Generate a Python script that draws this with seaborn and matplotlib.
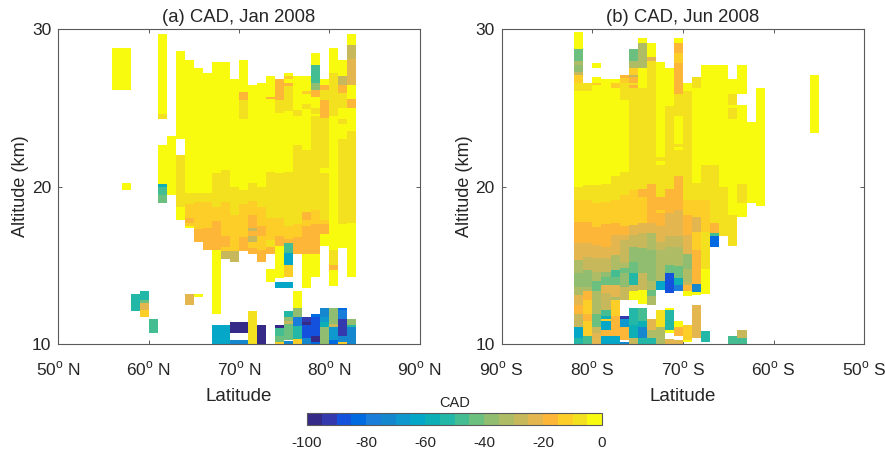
import numpy as np
import matplotlib
matplotlib.use("Agg")
import matplotlib.pyplot as plt
from matplotlib.colors import ListedColormap
import seaborn as sns

n = np.nan
# Each profile: top altitude (km), CAD value, next altitude, CAD value, ... bottom altitude. NaN = no data.
jan_profiles = {
 56: [28.8,-2,26.1],
 57: [28.8,-2,26.1,n,20.2,-2,19.8],
 58: [13.2,-52,12.1],
 59: [13.4,-52,12.8,-42,12.65,-22,12.15,-12,11.75],
 60: [11.6,-47,10.7],
 61: [29.7,-2,24.6,-7,24.3,n,22.65,-2,20.15,-57,20.0,-47,19.5,-42,18.95],
 62: [23.2,-2,19.5],
 63: [28.6,-2,23.0,n,22.0,-7,18.7,-2,17.9],
 64: [28.05,-2,19.6,-7,18.9,-12,18.0,-17,17.7,-12,17.5,-2,17.35,n,13.2,-22,12.5],
 65: [27.5,-2,19.6,-7,19.0,-12,17.3,-17,16.5,n,13.2,-2,13.0],
 66: [27.2,-2,19.6,-7,19,-12,17.4,-17,16.0],
 67: [27.9,-2,20.85,-7,18.7,-12,17.8,-17,15.95,-2,11.95,n,11.2,-62,10],
 68: [27.9,-2,21.05,-7,19,-12,16.9,-17,16.2,-12,15.9,-27,15.4,n,11.2,-62,10],
 69: [26.8,-2,20,-7,18.2,-12,15.9,-27,15.2,n,11.4,-97,10.7,n,10.3,-72,10],
 70: [28.05,-2,26,-17,25.5,-7,24.3,-2,19.8,-7,18.9,-12,16.8,-17,15.9,n,11.4,-97,10.7,n,10.3,-72,10],
 71: [26.45,-2,20.2,-7,19.1,-12,18.2,-17,17.4,-27,17.2,-17,16.9,-27,16.5,-12,16.1,-17,15.7,n,12.1,-7,10],
 72: [26.6,-2,20,-7,18.7,-12,17.5,-17,16.9,-12,16.0,-17,15.2,n,11.2,-97,10],
 73: [27,-2,25.7,-17,25.55,-2,20.9,-7,18,-12,16.6,-7,16.2,-17,15.75,n,14.8,-2,13.95],
 74: [26.8,-17,25.5,-7,24.7,-2,20.85,-7,18.0,-12,16.9,-17,16.25,-2,14.2,n,13.95,-62,13.55,n,11.2,-97,11.05,-47,10.5,-42,10.15,-12,10],
 75: [27.2,-2,27,-12,26.8,-2,26.6,-17,26.4,-7,24.8,-2,20.9,-7,17.5,-12,16.7,-17,16.4,-47,15.8,-62,15,-12,14.3,n,13.95,-62,13.55,n,12.1,-52,11.75,-37,11.5,-27,11.3,-42,10.3,n,10.2,-72,10],
 76: [27,-2,24.85,-7,24.5,-2,22.65,-7,17.6,-12,16.8,-17,15.7,n,13.4,-2,12.3,-37,11.75,-77,11.15,-52,10.35,-12,10],
 77: [27,-2,26.05,-12,25.9,-2,25.25,-7,24.95,-2,22.3,-7,18.4,-17,17.9,-12,17.5,-17,15.7,-2,13.55,n,11.75,-92,11.4,-97,11.2,-87,10.4,-72,10],
 78: [28.45,-2,27.7,-47,26.6,-37,26.1,-17,25.7,-2,25,-7,24.6,-2,24.45,-7,18.5,-12,17.6,-17,15.75,-2,14.25,n,11.95,-82,11.75,-87,10.5,-97,10.15,-82,10],
 79: [26.8,-2,26.45,-17,26.1,-7,25.5,-17,24.35,-7,21.2,-2,20.85,-7,17.9,-12,17.6,-17,17.0,-2,16.25,n,12.3,-72,11.75,-67,11.4,-57,11.1,-37,10],
 80: [28.8,-2,27.2,-7,24.5,-2,16,-7,15,-17,14.7,-2,13.7,n,12.3,-37,11.3,-27,11.1,-67,10.3,-82,10],
 81: [28.05,-2,27,-27,26.45,-17,25.95,-7,25,-2,24.3,-7,23.95,-2,23,-7,17.65,-2,16.1,n,12.3,-82,12.15,-77,11.6,-92,10.5,-72,10.15,-12,10],
 82: [29.7,-2,29,-27,28.1,-22,26.45,-2,25.55,-17,25.0,-2,23.55,-7,17.7,-2,14.25,n,11.6,-37,11.25,-52,11.1,-72,10],
}
# Southern profiles, keyed by the southern edge of the 1-degree column.
jun_profiles = {
 82: [29.8,-2,28.75,-42,28,-32,27.7,-37,27.3,-27,27.1,-12,26.6,-7,26.05,-2,19.95,-7,19.15,-12,17.75,-17,16.4,-22,15.35,-32,14.5,-37,13.65,-32,13.15,-22,12.5,-17,11.95,-27,11.1,-62,10.4,-52,10],
 81: [26.6,-7,26.05,-2,20.1,-7,19.15,-12,17.75,-17,16.4,-22,15.55,-27,14.7,-37,13.65,-32,13.35,-17,12.8,-12,11.95,-17,11.45,-12,10.5,-47,10],
 80: [27.85,-2,27.55,n,26.95,-2,26.6,-12,26.45,-2,20.1,-7,18.95,-12,17.45,-17,16.3,-22,15.45,-27,14.6,-32,14,-42,13.35,-32,11.9,-42,11.1,-27,10.7,-22,10],
 79: [26.8,-2,20.15,-7,19,-12,17.6,-17,16.2,-22,15.5,-27,14.6,-37,14.25,-42,13.75,-22,13.25,-27,12.15,-47,11.8,-57,11.6,-12,11.45,-62,10.9,-17,10.5,-62,10],
 78: [26.8,-2,26.6,-12,26.25,-2,20.7,-7,19.15,-12,17.7,-17,16.95,-22,15.65,-32,14.7,-47,14.3,-42,13.75,-22,13,-32,12.8,-12,11.8,-17,10.5,-62,10],
 77: [27.1,-17,26.9,-12,26.6,-7,25.5,-2,20.9,-7,19.45,-12,17.5,-17,16.95,-22,16.6,-27,15.15,-32,14.85,-42,14.5,-37,13.65,-27,12.8,n,11.8,-92,11.6,-67,11.1,-17,10.3,n,10.15,-72,10],
 76: [28.75,-42,28,-32,27.5,-12,27.1,-27,26.95,-17,26.6,-7,26.45,-17,26.25,-7,19.8,-12,17.55,-22,16.95,-27,16.2,-37,15.25,-42,14.5,-52,13.75,-27,13.35,-2,12.8,n,12.3,-52,11.2,-57,10.4,-27,10],
 75: [29.45,-2,29.1,-32,27.55,-2,26.25,-7,19.85,-17,19.35,-12,17.7,-22,17.05,-27,16.1,-37,14.5,-27,13.45,-2,12.55,n,12.3,-47,11.45,-57,11.1,-72,10.4,-52,10],
 74: [29.1,-2,28.25,-22,27.95,-7,20.15,-17,19.15,-17,17.7,-22,17.05,-32,16,-37,14,-32,13.45,-42,13.05,-32,12.5,n,11.6,-22,10.9,-32,10.4,-52,10],
 73: [27.9,-2,21.9,-7,21.6,-2,21.4,-7,19.35,-17,18.5,-12,18.3,-17,17.5,-22,16.5,-27,16,-32,14,-62,13.45,n,12.15,-7,11.1,-32,10],
 72: [27.5,-2,25.1,-7,19.85,-17,18.3,-22,16.85,-27,16.2,-32,15.05,-42,14.5,-87,13.25,n,12.3,-2,12.15,-52,10.9,-2,10.7,n,10.35,-22,10],
 71: [29.45,-2,29.1,-17,28.5,-12,27.85,-17,25.85,-7,24.45,-2,22.7,-7,22.5,-2,22.3,-7,20.7,-17,18.5,-22,16.85,-27,16.2,-32,14.95,-42,14.2,-57,13.75,-77,13.35,n,11.45,-2,11.1,-17,10.5,n,10.3,-22,10],
 70: [26.6,-2,26.05,-7,19.15,-12,18.2,-17,16.95,-22,15.75,-37,14.8,-32,13.95,-27,13.75,-17,13.4,-2,13.05,n,11.2,-12,10.25,-2,10.15],
 69: [26.95,-7,26.25,-2,20.2,-7,19.15,-12,18.1,-22,17.15,-12,16,-17,13.85,-72,13.3,-2,13.1,n,12.5,-22,10.4],
 68: [27.7,-2,21.4,-7,19.15,-12,17.15,-7,14.8,-2,13.2,n,10.85,-52,10.15],
 67: [27.7,-2,21.4,-7,18.95,-7,17.7,-17,17.05,-47,16.9,-82,16.2],
 66: [27.7,-2,20,-7,16.85],
 65: [26.8,-2,25.9,-7,25.15,-2,25,-7,24.3,-2,18.2,-7,16.25,n,10.5,-47,10],
 64: [27.7,-2,25.9,n,25.15,-2,20.15,-7,18.95,-2,18.05,n,10.9,-27,10.4,-47,10],
 63: [24.1,-2,18.95],
 62: [26.25,-2,18.75],
 56: [27.1,-2,23.4],
}
lat_ticks = [50, 60, 70, 80, 90]
lat_ticks_s = [90, 80, 70, 60, 50]
alt_ticks = [10, 20, 30]
cad_ticks = [-100, -80, -60, -40, -20, 0]
level_colors = ['#352a87','#3539ae','#1451dc','#006ae0','#1a7dd9','#1587cf','#0f98ce','#05a7c9',
                '#0bafb5','#22b7a7','#45bd92','#6cc07f','#90bd6f','#aebc65','#c8b85c','#e3b650',
                '#fdb638','#fdce28','#f3e01f','#f9fb0e']

sns.set_style("white")
plt.rcParams['font.family'] = ['Liberation Sans', 'DejaVu Sans']
plt.rcParams['mathtext.fontset'] = 'custom'
plt.rcParams['mathtext.rm'] = 'Liberation Sans'
EDGE = '#5a5a5a'
TXT = '#262626'
W, H = 885, 451
DZ = 0.05
alts = np.arange(10, 30, DZ) + DZ / 2
cmap = ListedColormap(level_colors)


def build_grid(profiles, col_of):
    grid = np.full((alts.size, 40), np.nan)
    for lat, p in profiles.items():
        for i in range(1, len(p), 2):
            sel = (alts < p[i - 1]) & (alts >= p[i + 1])
            grid[sel, col_of(lat)] = p[i]
    return grid


def rect(l, r, t=29.0, b=344.3):
    return [l / W, 1 - b / H, (r - l) / W, (b - t) / H]


fig = plt.figure(figsize=(W / 100, H / 100), dpi=100)
ax_a = fig.add_axes(rect(58.3, 419.5))
ax_b = fig.add_axes(rect(501.7, 864.4))
cax = fig.add_axes(rect(307, 602, 413, 425))

sns.heatmap(build_grid(jan_profiles, lambda L: L - 50), ax=ax_a, cmap=cmap, vmin=-100, vmax=0,
            cbar_ax=cax, cbar_kws={'orientation': 'horizontal'}, xticklabels=False, yticklabels=False)
sns.heatmap(build_grid(jun_profiles, lambda L: 90 - L), ax=ax_b, cmap=cmap, vmin=-100, vmax=0,
            cbar=False, xticklabels=False, yticklabels=False)

for ax, title, xt, xl in [
    (ax_a, '(a) CAD, Jan 2008', [v - 50 for v in lat_ticks], [f'{v}$^{{\\mathrm{{o}}}}$ N' for v in lat_ticks]),
    (ax_b, '(b) CAD, Jun 2008', [90 - v for v in lat_ticks_s], [f'{v}$^{{\\mathrm{{o}}}}$ S' for v in lat_ticks_s]),
]:
    ax.set_ylim(0, alts.size)
    ax.set_xlim(0, 40)
    ax.set_xticks(xt)
    ax.set_xticklabels(xl, fontsize=12.5, color=TXT, rotation=0)
    ax.set_yticks([(v - 10) / DZ for v in alt_ticks])
    ax.set_yticklabels(alt_ticks, fontsize=12.5, color=TXT, rotation=0)
    ax.tick_params(direction='in', length=3, width=0.7, color=EDGE, top=True, right=True,
                   bottom=True, left=True)
    ax.tick_params(axis='x', pad=11)
    ax.tick_params(axis='y', pad=5)
    for s in ax.spines.values():
        s.set_visible(True)
        s.set_color(EDGE)
        s.set_linewidth(0.8)
    ax.set_title(title, fontsize=13.3, color=TXT, pad=5)
    ax.set_xlabel('Latitude', fontsize=13.5, color=TXT, labelpad=7)
    ax.set_ylabel('Altitude (km)', fontsize=13, color=TXT, labelpad=2)

cb = ax_a.collections[0].colorbar
cb.set_ticks(cad_ticks)
cb.set_ticklabels([str(v) for v in cad_ticks], fontsize=11, color=TXT)
cax.tick_params(direction='in', length=2, width=0.6, color=EDGE, pad=8, bottom=True)
cb.outline.set_visible(True)
cb.outline.set_edgecolor(EDGE)
cb.outline.set_linewidth(0.8)
cax.set_title('CAD', fontsize=10.5, color=TXT, pad=4)

fig.savefig('out.png', dpi=100)
